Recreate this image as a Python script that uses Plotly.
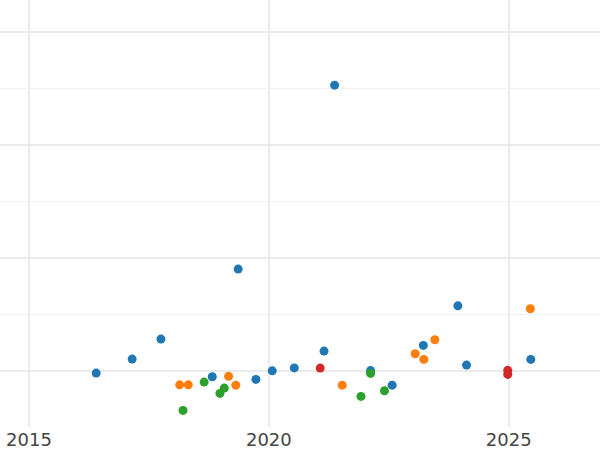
import plotly.graph_objects as go

# Series values (x = decimal year, y = value in grid units)
blue_x = [2016.40, 2017.15, 2017.75, 2019.36, 2018.82, 2019.73, 2020.07, 2020.53,
          2021.15, 2021.37, 2022.12, 2022.57, 2023.22, 2023.94, 2024.12, 2025.46]
blue_y = [-0.022, 0.102, 0.279, 0.900, -0.055, -0.078, -0.002, 0.024,
          0.173, 2.530, 0.000, -0.129, 0.223, 0.574, 0.049, 0.099]

orange_x = [2018.14, 2018.32, 2019.16, 2019.31, 2021.53, 2023.05, 2023.23, 2023.46, 2025.45]
orange_y = [-0.126, -0.126, -0.051, -0.129, -0.129, 0.149, 0.099, 0.273, 0.548]

green_x = [2018.21, 2018.65, 2018.98, 2019.07, 2021.92, 2022.12, 2022.41]
green_y = [-0.353, -0.102, -0.202, -0.155, -0.229, -0.025, -0.179]

red_x = [2021.07, 2024.98, 2024.98]
red_y = [0.022, 0.002, -0.034]

tick_vals = [2015, 2020, 2025]
tick_text = ["2015", "2020", "2025"]

series = [
    (blue_x, blue_y, "#1f77b4"),
    (orange_x, orange_y, "#ff7f0e"),
    (green_x, green_y, "#2ca02c"),
    (red_x, red_y, "#d62728"),
]

fig = go.Figure()
for xs, ys, col in series:
    fig.add_trace(go.Scatter(x=xs, y=ys, mode="markers",
                             marker=dict(size=9, color=col),
                             showlegend=False))

fig.update_layout(
    width=600, height=450, autosize=False,
    margin=dict(l=0, r=0, t=0, b=23, pad=0),
    plot_bgcolor="white", paper_bgcolor="white",
    font=dict(family="DejaVu Sans", size=18, color="#444444"),
)
fig.update_xaxes(
    range=[2014.395, 2026.903],
    tickvals=tick_vals, ticktext=tick_text,
    showgrid=True, gridcolor="#ebebeb", gridwidth=2,
    zeroline=False, showline=False, ticks="",
)
fig.update_yaxes(
    range=[-0.5, 3.285], dtick=1, tick0=0,
    showticklabels=False,
    showgrid=True, gridcolor="#ebebeb", gridwidth=2,
    minor=dict(dtick=0.5, showgrid=True, gridcolor="#f0f0f0", gridwidth=1),
    zeroline=False, showline=False, ticks="",
)

fig.write_html("out.html",
               config={"displayModeBar": False},
               post_script="document.body.style.margin='0';document.body.style.overflow='hidden';")
